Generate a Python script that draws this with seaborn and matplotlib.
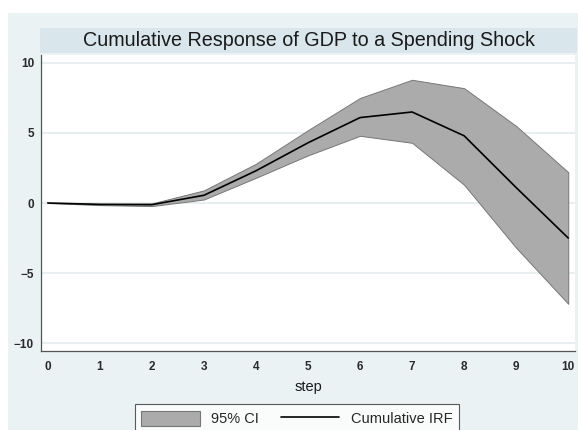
#!/usr/bin/env python3

import matplotlib
matplotlib.use('Agg')
import matplotlib.pyplot as plt
from matplotlib.patches import Rectangle, Patch
from matplotlib.lines import Line2D
import seaborn as sns
import pandas as pd

# values
steps = [0, 1, 2, 3, 4, 5, 6, 7, 8, 9, 10]
irf = [0.0, -0.1, -0.12, 0.55, 2.3, 4.3, 6.1, 6.5, 4.8, 1.1, -2.5]
ci_upper = [0.0, -0.05, -0.03, 0.9, 2.8, 5.2, 7.5, 8.8, 8.2, 5.5, 2.2]
ci_lower = [0.0, -0.15, -0.22, 0.25, 1.8, 3.4, 4.8, 4.3, 1.3, -3.2, -7.2]
y_ticks = [-10, -5, 0, 5, 10]

TITLE = 'Cumulative Response of GDP to a Spending Shock'
BG = '#EAF2F3'      # graph region
TITLE_BG = '#D9E6EB'

df = pd.DataFrame({'step': steps, 'irf': irf, 'lo': ci_lower, 'hi': ci_upper})

sns.set_style('white')
plt.rcParams['font.family'] = ['Liberation Sans', 'DejaVu Sans']

W, H = 578, 430
fig = plt.figure(figsize=(W / 100, H / 100), dpi=100)
fig.patch.set_facecolor('white')

# light bluish-gray graph region and title band (pixel coords -> figure coords)
def px_rect(x0, y0, x1, y1, color):
    fig.patches.append(Rectangle((x0 / W, 1 - y1 / H), (x1 - x0) / W, (y1 - y0) / H,
                                 transform=fig.transFigure, facecolor=color,
                                 edgecolor='none', zorder=-5))

px_rect(8, 13, 578, 430, BG)
px_rect(40, 28, 577, 53, TITLE_BG)
fig.text(309 / W, 1 - 41 / H, TITLE, ha='center', va='center', fontsize=14.2, color='#1a1a1a')

ax = fig.add_axes([41 / W, 1 - 351 / H, (575 - 41) / W, (351 - 55) / H])
ax.set_facecolor('white')

ax.fill_between(df['step'], df['lo'], df['hi'], facecolor='#ABABAB',
                edgecolor='#777777', linewidth=0.7, zorder=2)
sns.lineplot(data=df, x='step', y='irf', ax=ax, color='black', linewidth=1.2, zorder=3)

ax.set_xlim(-0.13, 10.13)
ax.set_ylim(-10.57, 10.57)
ax.set_xticks(steps)
ax.set_yticks(y_ticks)
ax.yaxis.grid(True, color='#E3ECEE', linewidth=1.2, zorder=0)
ax.xaxis.grid(False)
ax.set_axisbelow(True)

for s in ['top', 'right']:
    ax.spines[s].set_visible(False)
for s in ['left', 'bottom']:
    ax.spines[s].set_color('#555555')
    ax.spines[s].set_linewidth(0.9)

ax.tick_params(axis='both', direction='out', length=3, width=0.8, color='#555555',
               labelsize=8.5, labelcolor='#2a2a2a', pad=2)
ax.tick_params(axis='x', pad=4)
for lab in ax.get_xticklabels() + ax.get_yticklabels():
    lab.set_fontweight('bold')

ax.set_xlabel('step', fontsize=10.5, color='#1a1a1a', labelpad=5)
ax.set_ylabel('')

handles = [Patch(facecolor='#ABABAB', edgecolor='#777777', linewidth=0.8),
           Line2D([0], [0], color='black', linewidth=1.2)]
leg = fig.legend(handles, ['95% CI', 'Cumulative IRF'], loc='upper center',
                 bbox_to_anchor=(297 / W, 1 - 397 / H), ncol=2, fontsize=10.5,
                 frameon=True, fancybox=False, edgecolor='#333333',
                 handlelength=4.0, handleheight=1.2, columnspacing=1.5,
                 borderpad=0.45, handletextpad=0.8)
leg.get_frame().set_linewidth(0.8)
leg.get_frame().set_facecolor('white')

plt.savefig('out.png', dpi=100)
